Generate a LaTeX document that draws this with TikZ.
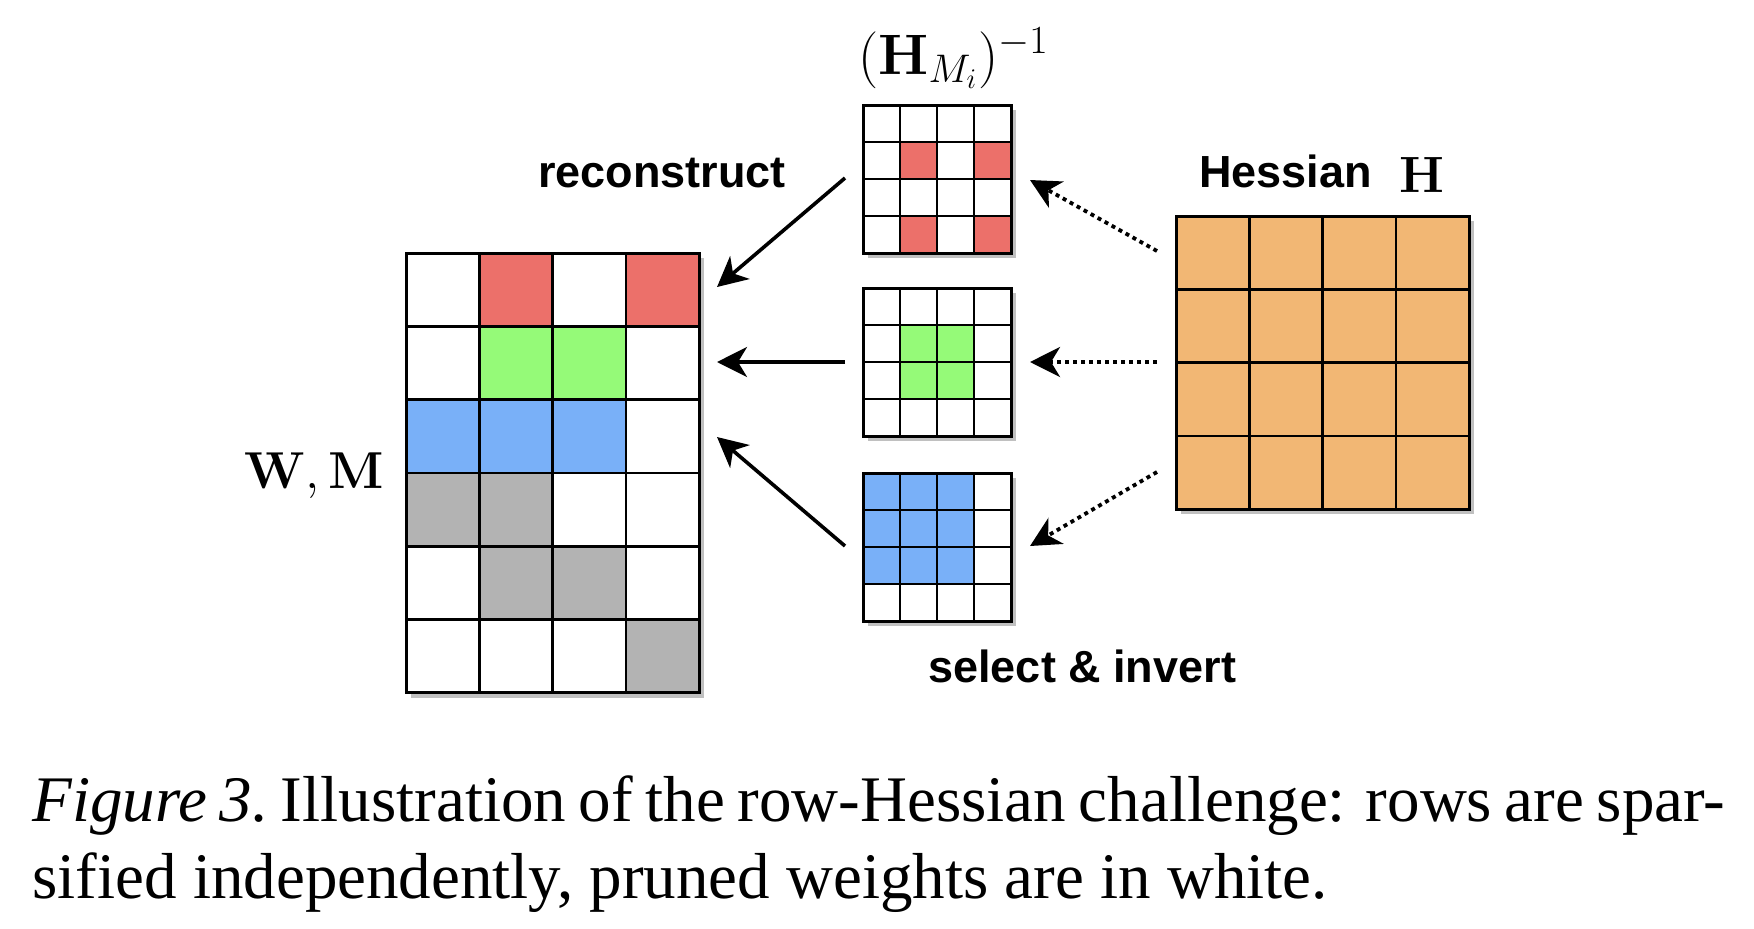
\RequirePackage{fix-cm}
\documentclass[tikz,border=0pt]{standalone}
\usepackage[no-math]{fontspec}
\newfontfamily\capfont{Liberation Serif}
\newfontfamily\lblfont{Liberation Sans}
\usetikzlibrary{arrows.meta}
\definecolor{cred}{RGB}{236,112,106}
\definecolor{cgreen}{RGB}{149,250,120}
\definecolor{cblue}{RGB}{121,176,248}
\definecolor{cgray}{RGB}{179,179,179}
\definecolor{corange}{RGB}{242,183,116}
\definecolor{cshadow}{RGB}{192,192,192}
\tikzset{
  cellline/.style={draw=black, line width=1.3pt},
  gridbox/.style={draw=black, line width=1.5pt, inner sep=0pt, outer sep=0pt, anchor=north west},
  shadowbox/.style={fill=cshadow},
  lbl/.style={inner sep=0pt, font=\lblfont\bfseries\fontsize{22.5pt}{27pt}\selectfont},
  mathlbl/.style={inner sep=0pt},
  solidarrow/.style={line width=1.8pt, -{Stealth[length=15pt,width=15pt,inset=4.5pt]}},
  dotarrow/.style={line width=1.9pt, dash pattern=on 2pt off 2pt, -{Stealth[length=15pt,width=15pt,inset=4.5pt]}},
  captext/.style={inner sep=0pt, anchor=base west, font=\capfont\fontsize{32.5pt}{38.5pt}\selectfont}
}
\begin{document}
\begin{tikzpicture}[x=0.5pt,y=-0.5pt]
\useasboundingbox[fill=white] (0,0) rectangle (1754,928);

% ---------- W, M grid ----------
\fill[shadowbox] (411,258) rectangle (704.2,697.8);
\foreach \r/\row in {0/{white,cred,white,cred},1/{white,cgreen,cgreen,white},2/{cblue,cblue,cblue,white},3/{cgray,cgray,white,white},4/{white,cgray,cgray,white},5/{white,white,white,cgray}}{
  \foreach \clr [count=\c from 0] in \row {
    \filldraw[cellline, fill=\clr] ({406+\c*73.3},{253+\r*73.3}) rectangle ++(73.3,73.3);
  }
}
\node[gridbox, minimum width=146.6pt, minimum height=219.9pt] (gridW) at (406,253) {};

% ---------- small red grid ----------
\fill[shadowbox] (868,110) rectangle (1016,258);
\foreach \r/\row in {0/{white,white,white,white},1/{white,cred,white,cred},2/{white,white,white,white},3/{white,cred,white,cred}}{
  \foreach \clr [count=\c from 0] in \row {
    \filldraw[cellline, fill=\clr] ({863+\c*37},{105+\r*37}) rectangle ++(37,37);
  }
}
\node[gridbox, minimum width=74pt, minimum height=74pt] (gridR) at (863,105) {};

% ---------- small green grid ----------
\fill[shadowbox] (868,293) rectangle (1016,441);
\foreach \r/\row in {0/{white,white,white,white},1/{white,cgreen,cgreen,white},2/{white,cgreen,cgreen,white},3/{white,white,white,white}}{
  \foreach \clr [count=\c from 0] in \row {
    \filldraw[cellline, fill=\clr] ({863+\c*37},{288+\r*37}) rectangle ++(37,37);
  }
}
\node[gridbox, minimum width=74pt, minimum height=74pt] (gridG) at (863,288) {};

% ---------- small blue grid ----------
\fill[shadowbox] (868,478) rectangle (1016,626);
\foreach \r/\row in {0/{cblue,cblue,cblue,white},1/{cblue,cblue,cblue,white},2/{cblue,cblue,cblue,white},3/{white,white,white,white}}{
  \foreach \clr [count=\c from 0] in \row {
    \filldraw[cellline, fill=\clr] ({863+\c*37},{473+\r*37}) rectangle ++(37,37);
  }
}
\node[gridbox, minimum width=74pt, minimum height=74pt] (gridB) at (863,473) {};

% ---------- Hessian grid ----------
\fill[shadowbox] (1181,221) rectangle (1474.2,514.2);
\foreach \r in {0,1,2,3}{
  \foreach \c in {0,1,2,3}{
    \filldraw[cellline, fill=corange] ({1176+\c*73.3},{216+\r*73.3}) rectangle ++(73.3,73.3);
  }
}
\node[gridbox, minimum width=146.6pt, minimum height=146.6pt] (gridH) at (1176,216) {};

% ---------- labels ----------
\node[lbl, anchor=base west] (rec) at (538,187) {reconstruct};
\node[lbl, anchor=base west] (hes) at (1199,187) {Hessian};
\node[mathlbl, anchor=base west] (hmath) at (1399,192) {\fontsize{25.5pt}{30pt}\selectfont$\mathbf{H}$};
\node[mathlbl, anchor=base west] (sel) at (928,682) {\lblfont\bfseries\fontsize{22.5pt}{27pt}\selectfont select \& invert};
\node[mathlbl, anchor=base west] (wm) at (244,488) {\fontsize{26pt}{30pt}\selectfont$\mathbf{W}, \mathbf{M}$};
\node[mathlbl, anchor=base west] (hinv) at (858,74) {\fontsize{28.5pt}{33pt}\selectfont$(\mathbf{H}_{M_i})^{-1}$};

% ---------- arrows ----------
\coordinate (s1) at (845,178); \coordinate (e1) at (717,287);
\coordinate (s2) at (845,362); \coordinate (e2) at (717,362);
\coordinate (s3) at (845,546); \coordinate (e3) at (717,437);
\draw[solidarrow] (s1) -- (e1);
\draw[solidarrow] (s2) -- (e2);
\draw[solidarrow] (s3) -- (e3);

\coordinate (d1s) at (1157,251); \coordinate (d1e) at (1030,180);
\coordinate (d2s) at (1157,362); \coordinate (d2e) at (1030,362);
\coordinate (d3s) at (1157,472); \coordinate (d3e) at (1030,546);
\draw[dotarrow] (d1s) -- (d1e);
\draw[dotarrow] (d2s) -- (d2e);
\draw[dotarrow] (d3s) -- (d3e);

% ---------- caption ----------
\node[captext] (cap1) at (32,821) {\hbox to 846.5pt{\itshape Figure 3.\upshape\ Illustration of the row-Hessian challenge: rows are spar-}};
\node[captext] (cap2) at (32,898) {sified independently, pruned weights are in white.};
\end{tikzpicture}
\end{document}
